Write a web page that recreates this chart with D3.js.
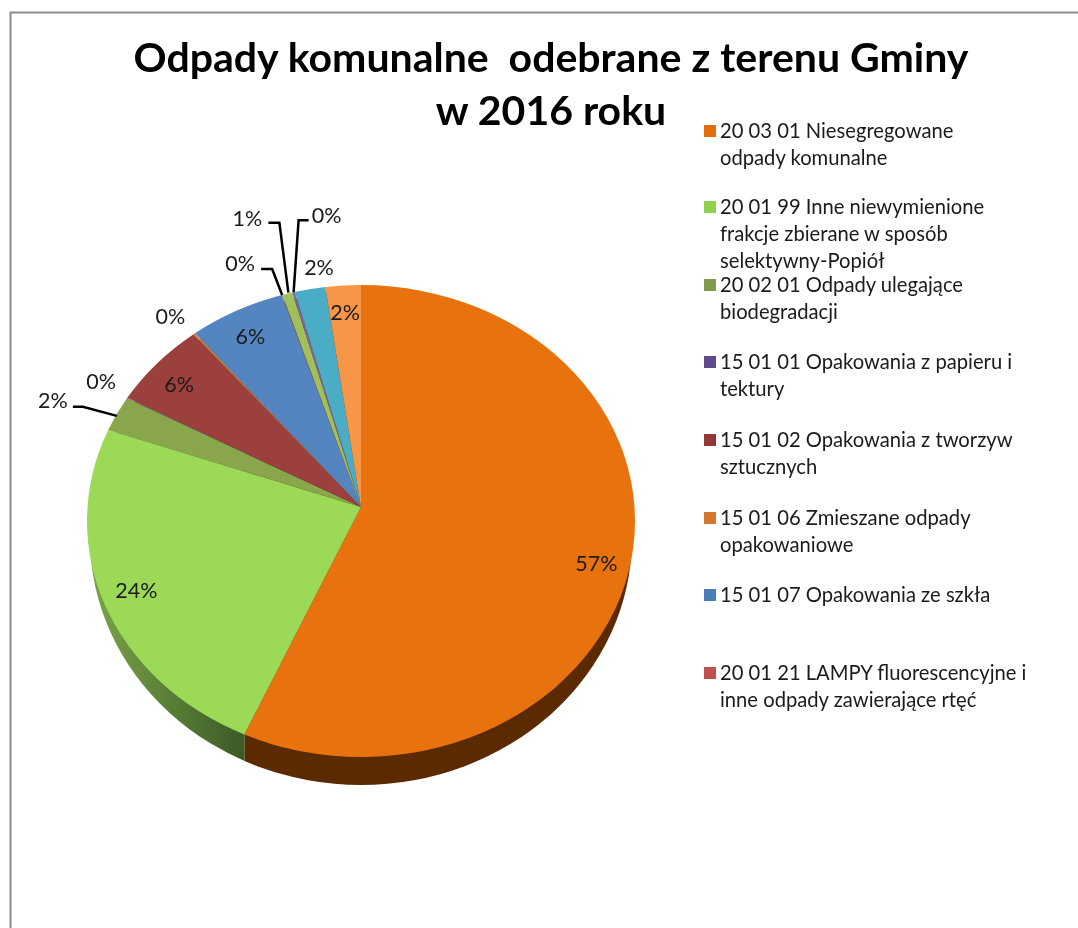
<!DOCTYPE html>
<html>
<head>
<meta charset="utf-8">
<script src="https://cdn.jsdelivr.net/npm/d3@7"></script>
<style>
  html, body { margin: 0; padding: 0; background: #fff; }
  svg { display: block; }
</style>
</head>
<body>
<div id="chart"></div>
<script>
const titleLines = ["Odpady komunalne  odebrane z terenu Gminy", "w 2016 roku"];

// one value per slice, going clockwise from the top
const sliceValues = [57.0, 24.3, 2.4, 0.04, 5.8, 0.1, 5.7, 0.03, 0.6, 0.15, 1.8, 2.08];
const sliceLabels = ["57%", "24%", "2%", "0%", "6%", "0%", "6%", "0%", "1%", "0%", "2%", "2%"];
const sliceColors = ["#e8720f", "#9bd957", "#8aa64e", "#6a4a8c", "#9c3f3d", "#d9803a", "#5585c0", "#c0504d", "#a0c05a", "#7f63a8", "#4bacc6", "#f79646"];

const legendEntries = [
  ["20 03 01 Niesegregowane", "odpady komunalne"],
  ["20 01 99 Inne niewymienione", "frakcje zbierane w sposób", "selektywny-Popiół"],
  ["20 02 01 Odpady ulegające", "biodegradacji"],
  ["15 01 01 Opakowania z papieru i", "tektury"],
  ["15 01 02 Opakowania z tworzyw", "sztucznych"],
  ["15 01 06 Zmieszane odpady", "opakowaniowe"],
  ["15 01 07 Opakowania ze szkła"],
  ["20 01 21 LAMPY fluorescencyjne i", "inne odpady zawierające rtęć"],
];
const legendSwatches = ["#e36c09", "#92d050", "#7f9a48", "#5f4b8b", "#953735", "#d4772f", "#4a7ebb", "#c0504d"];

const width = 1078;
const height = 928;
const cx = 361, cy = 521, apexY = 507;
const rx = 274, ry = 236;
// bottom of the pie is drawn as a second ellipse, it only shows below the top face
const wallCy = 538, wallRx = 271, wallRy = 247;

// label placement, relative to the slice's middle point on the rim
const labelOffsets = [[-32, -9], [31, -15], [-64, -13], [-26, -17], [22, 21], [-24, -17], [14, 26], [-42, -32], [-40, -75], [33, -77], [9, -22], [2, 27]];
// leader lines, only for the labels that have one: [slice, points relative to rim point]
const leaders = [
  [2, [[-44, -7], [-34, -7], [0, 2]]],
  [7, [[-21, -26], [-10, -26], [0, 0]]],
  [8, [[-19, -71], [-8, -71], [1, -1]]],
  [9, [[15, -72], [5, -72], [0, 0]]],
];

const svg = d3.select("#chart").append("svg")
  .attr("width", width).attr("height", height)
  .attr("viewBox", [0, 0, width, height]);

const defs = svg.append("defs");
defs.append("filter").attr("id", "soft").append("feGaussianBlur").attr("stdDeviation", 0.45);

const pie = d3.pie().value(d => d).sort(null);
const arcs = pie(sliceValues);

const rim = a => [cx + rx * Math.sin(a), cy - ry * Math.cos(a)];
const seamX = rim(arcs[0].endAngle)[0];

// wall gradient for the green part
const greenWall = defs.append("linearGradient").attr("id", "wallGreen")
  .attr("gradientUnits", "userSpaceOnUse")
  .attr("x1", cx - wallRx).attr("x2", seamX).attr("y1", 0).attr("y2", 0);
greenWall.append("stop").attr("offset", "0%").attr("stop-color", "#7ba548");
greenWall.append("stop").attr("offset", "100%").attr("stop-color", "#3c5a26");

defs.append("clipPath").attr("id", "leftOfSeam").append("rect")
  .attr("x", 0).attr("y", 0).attr("width", seamX).attr("height", height);
defs.append("clipPath").attr("id", "rightOfSeam").append("rect")
  .attr("x", seamX).attr("y", 0).attr("width", width - seamX).attr("height", height);

// frame
svg.append("path")
  .attr("d", `M10.5,${height}V12.5H${width}`)
  .attr("fill", "none").attr("stroke", "#8a8a8a").attr("stroke-width", 2);

const chart = svg.append("g").attr("filter", "url(#soft)");

// title
chart.append("g").selectAll("text").data(titleLines).join("text")
  .attr("x", 551)
  .attr("y", (d, i) => 72 + i * 53)
  .attr("text-anchor", "middle")
  .attr("font-family", "Lato, 'Open Sans', sans-serif")
  .attr("font-weight", 700)
  .attr("font-size", 41)
  .attr("fill", "#000")
  .style("white-space", "pre")
  .text(d => d);

// side wall
const wallParts = [["url(#rightOfSeam)", "#5c2b04"], ["url(#leftOfSeam)", "url(#wallGreen)"]];
chart.append("g").selectAll("ellipse").data(wallParts).join("ellipse")
  .attr("cx", cx).attr("cy", wallCy)
  .attr("rx", wallRx).attr("ry", wallRy)
  .attr("clip-path", d => d[0])
  .attr("fill", d => d[1]);

// top face, the point of the pie sits a bit above the ellipse centre
function slicePath(d) {
  const p0 = rim(d.startAngle), p1 = rim(d.endAngle);
  const large = d.endAngle - d.startAngle > Math.PI ? 1 : 0;
  return `M${cx},${apexY}L${p0}A${rx},${ry} 0 ${large} 1 ${p1}Z`;
}
chart.append("g").selectAll("path").data(arcs).join("path")
  .attr("d", slicePath)
  .attr("fill", (d, i) => sliceColors[i]);

// leader lines
const lineGen = d3.line();
chart.append("g").selectAll("path").data(leaders).join("path")
  .attr("d", ([i, pts]) => {
    const [x, y] = rim((arcs[i].startAngle + arcs[i].endAngle) / 2);
    return lineGen(pts.map(p => [x + p[0], y + p[1]]));
  })
  .attr("fill", "none").attr("stroke", "#000").attr("stroke-width", 2.5);

// data labels
chart.append("g").selectAll("text").data(arcs).join("text")
  .attr("x", (d, i) => rim((d.startAngle + d.endAngle) / 2)[0] + labelOffsets[i][0])
  .attr("y", (d, i) => rim((d.startAngle + d.endAngle) / 2)[1] + labelOffsets[i][1])
  .attr("text-anchor", "middle")
  .attr("dy", "0.35em")
  .attr("font-family", "Lato, 'Open Sans', sans-serif")
  .attr("font-size", 21.5)
  .attr("fill", "#1a1a1a")
  .text((d, i) => sliceLabels[i]);

// legend
const legendRowY = [131, 207, 285, 362, 440, 518, 595, 673];
const legend = chart.append("g").selectAll("g").data(legendEntries).join("g")
  .attr("transform", (d, i) => `translate(704,${legendRowY[i]})`);
legend.append("rect")
  .attr("x", 0).attr("y", -6).attr("width", 12).attr("height", 12)
  .attr("fill", (d, i) => legendSwatches[i]);
legend.selectAll("text").data(d => d).join("text")
  .attr("x", 16)
  .attr("y", (d, i) => i * 27)
  .attr("dy", "0.35em")
  .attr("font-family", "Lato, 'Open Sans', sans-serif")
  .attr("font-size", 20.2)
  .attr("fill", "#1a1a1a")
  .text(d => d);
</script>
</body>
</html>
